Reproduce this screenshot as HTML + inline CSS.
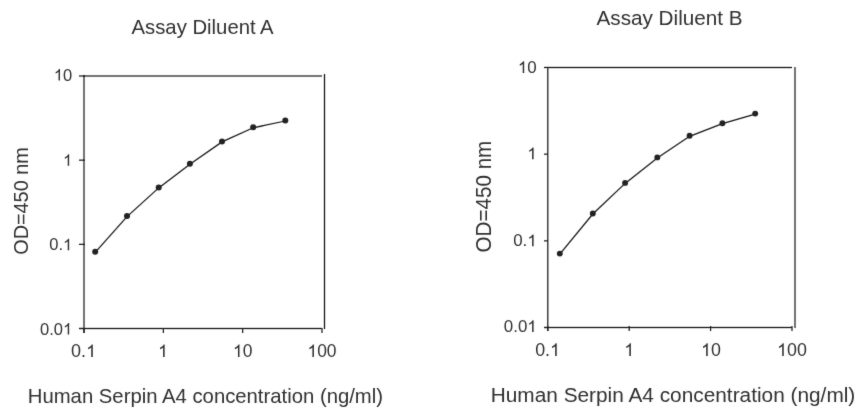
<!DOCTYPE html>
<html><head><meta charset="utf-8"><style>
html,body{margin:0;padding:0;background:#fff;}
svg{display:block;will-change:transform;}
text{font-family:"Liberation Sans",sans-serif;fill:#303030;}
.ax{stroke:#111;stroke-width:1.25;fill:none;}
.cv{stroke:#161616;stroke-width:1.25;fill:none;}
.mk{fill:#242424;}
.g1{fill:#303030;}
.lr{fill:#1c1c1c;shape-rendering:crispEdges;}
</style></head><body>
<svg width="867" height="417" viewBox="0 0 867 417">
<defs><filter id="soft" x="0" y="0" width="867" height="417" filterUnits="userSpaceOnUse"><feConvolveMatrix order="3" kernelMatrix="0.00864 0.07567 0.00864 0.07567 0.66279 0.07567 0.00864 0.07567 0.00864" edgeMode="none" preserveAlpha="false"/></filter></defs>
<rect width="867" height="417" fill="#fff"/>
<g filter="url(#soft)">
<rect x="83" y="75" width="1" height="258" fill-opacity="0.625" class="lr"/>
<rect x="84" y="75" width="1" height="258" fill-opacity="0.625" class="lr"/>
<rect x="79" y="75" width="6" height="1" fill-opacity="0.625" class="lr"/>
<rect x="79" y="76" width="6" height="1" fill-opacity="0.625" class="lr"/>
<rect x="79" y="159" width="6" height="1" fill-opacity="0.458" class="lr"/>
<rect x="79" y="160" width="6" height="1" fill-opacity="0.792" class="lr"/>
<rect x="79" y="243" width="6" height="1" fill-opacity="0.292" class="lr"/>
<rect x="79" y="244" width="6" height="1" fill-opacity="0.958" class="lr"/>
<rect x="79" y="327" width="6" height="1" fill-opacity="0.125" class="lr"/>
<rect x="79" y="328" width="6" height="1" fill-opacity="1.000" class="lr"/>
<rect x="79" y="329" width="6" height="1" fill-opacity="0.125" class="lr"/>
<rect x="79" y="327" width="243" height="1" fill-opacity="0.125" class="lr"/>
<rect x="79" y="328" width="243" height="1" fill-opacity="1.000" class="lr"/>
<rect x="79" y="329" width="243" height="1" fill-opacity="0.125" class="lr"/>
<rect x="83" y="328" width="1" height="5" fill-opacity="0.625" class="lr"/>
<rect x="84" y="328" width="1" height="5" fill-opacity="0.625" class="lr"/>
<rect x="162" y="328" width="1" height="5" fill-opacity="0.292" class="lr"/>
<rect x="163" y="328" width="1" height="5" fill-opacity="0.958" class="lr"/>
<rect x="242" y="328" width="1" height="5" fill-opacity="0.958" class="lr"/>
<rect x="243" y="328" width="1" height="5" fill-opacity="0.292" class="lr"/>
<rect x="321" y="328" width="1" height="5" fill-opacity="0.625" class="lr"/>
<rect x="322" y="328" width="1" height="5" fill-opacity="0.625" class="lr"/>
<rect x="83" y="75" width="239" height="1" fill-opacity="0.625" class="lr"/>
<rect x="83" y="76" width="239" height="1" fill-opacity="0.625" class="lr"/>
<rect x="323" y="74" width="1" height="255" fill-opacity="0.125" class="lr"/>
<rect x="324" y="74" width="1" height="255" fill-opacity="1.000" class="lr"/>
<rect x="325" y="74" width="1" height="255" fill-opacity="0.125" class="lr"/>
<path d="M95.20,252.30 C95.20,252.30 127.00,216.60 127.00,216.60 C127.00,216.60 158.70,187.90 158.70,187.90 C158.70,187.90 189.90,164.20 189.90,164.20 C189.90,164.20 222.00,141.90 222.00,141.90 C222.00,141.90 253.20,127.80 253.20,127.80 C253.20,127.80 285.30,121.00 285.30,121.00" class="cv"/>
<circle cx="95.20" cy="251.80" r="3.0" class="mk"/>
<circle cx="127.00" cy="216.10" r="3.0" class="mk"/>
<circle cx="158.70" cy="187.40" r="3.0" class="mk"/>
<circle cx="189.90" cy="163.70" r="3.0" class="mk"/>
<circle cx="222.00" cy="141.40" r="3.0" class="mk"/>
<circle cx="253.20" cy="127.30" r="3.0" class="mk"/>
<circle cx="285.30" cy="120.50" r="3.0" class="mk"/>
<rect x="547" y="67" width="1" height="264" fill-opacity="0.825" class="lr"/>
<rect x="548" y="67" width="1" height="264" fill-opacity="0.425" class="lr"/>
<rect x="544" y="66" width="4" height="1" fill-opacity="0.125" class="lr"/>
<rect x="544" y="67" width="4" height="1" fill-opacity="1.000" class="lr"/>
<rect x="544" y="68" width="4" height="1" fill-opacity="0.125" class="lr"/>
<rect x="544" y="153" width="4" height="1" fill-opacity="0.458" class="lr"/>
<rect x="544" y="154" width="4" height="1" fill-opacity="0.792" class="lr"/>
<rect x="544" y="240" width="4" height="1" fill-opacity="0.792" class="lr"/>
<rect x="544" y="241" width="4" height="1" fill-opacity="0.458" class="lr"/>
<rect x="544" y="326" width="4" height="1" fill-opacity="0.125" class="lr"/>
<rect x="544" y="327" width="4" height="1" fill-opacity="1.000" class="lr"/>
<rect x="544" y="328" width="4" height="1" fill-opacity="0.125" class="lr"/>
<rect x="544" y="326" width="248" height="1" fill-opacity="0.125" class="lr"/>
<rect x="544" y="327" width="248" height="1" fill-opacity="1.000" class="lr"/>
<rect x="544" y="328" width="248" height="1" fill-opacity="0.125" class="lr"/>
<rect x="547" y="326" width="1" height="5" fill-opacity="0.825" class="lr"/>
<rect x="548" y="326" width="1" height="5" fill-opacity="0.425" class="lr"/>
<rect x="628" y="326" width="1" height="5" fill-opacity="0.425" class="lr"/>
<rect x="629" y="326" width="1" height="5" fill-opacity="0.825" class="lr"/>
<rect x="709" y="326" width="1" height="5" fill-opacity="0.025" class="lr"/>
<rect x="710" y="326" width="1" height="5" fill-opacity="1.000" class="lr"/>
<rect x="711" y="326" width="1" height="5" fill-opacity="0.225" class="lr"/>
<rect x="791" y="326" width="1" height="5" fill-opacity="0.625" class="lr"/>
<rect x="792" y="326" width="1" height="5" fill-opacity="0.625" class="lr"/>
<rect x="547" y="66" width="245" height="1" fill-opacity="0.125" class="lr"/>
<rect x="547" y="67" width="245" height="1" fill-opacity="1.000" class="lr"/>
<rect x="547" y="68" width="245" height="1" fill-opacity="0.125" class="lr"/>
<rect x="794" y="67" width="1" height="261" fill-opacity="0.625" class="lr"/>
<rect x="795" y="67" width="1" height="261" fill-opacity="0.625" class="lr"/>
<path d="M559.80,254.10 C559.80,254.10 592.80,214.00 592.80,214.00 C592.80,214.00 625.10,183.40 625.10,183.40 C625.10,183.40 657.30,157.90 657.30,157.90 C657.30,157.90 689.60,136.30 689.60,136.30 C689.60,136.30 722.40,123.70 722.40,123.70 C722.40,123.70 755.20,114.10 755.20,114.10" class="cv"/>
<circle cx="559.80" cy="253.60" r="2.95" class="mk"/>
<circle cx="592.80" cy="213.50" r="2.95" class="mk"/>
<circle cx="625.10" cy="182.90" r="2.95" class="mk"/>
<circle cx="657.30" cy="157.40" r="2.95" class="mk"/>
<circle cx="689.60" cy="135.80" r="2.95" class="mk"/>
<circle cx="722.40" cy="123.20" r="2.95" class="mk"/>
<circle cx="755.20" cy="113.60" r="2.95" class="mk"/>
<text transform="translate(202.60,34.00) scale(1.0150,1)" font-size="20" text-anchor="middle">Assay Diluent A</text>
<text transform="translate(205.40,403.20) scale(1.0150,1)" font-size="20" text-anchor="middle">Human Serpin A4 concentration (ng/ml)</text>
<path transform="translate(53.85,80.60) scale(0.00806,-0.00806)" d="M763 0L583 0L583 1100Q518 1040 413 980Q308 920 223 890L223 1060Q373 1130 486 1228Q599 1325 646 1430L763 1430Z" class="g1"/>
<text transform="translate(63.02,80.60) scale(1.0000,1)" font-size="16.5">0</text>
<path transform="translate(63.02,165.80) scale(0.00806,-0.00806)" d="M763 0L583 0L583 1100Q518 1040 413 980Q308 920 223 890L223 1060Q373 1130 486 1228Q599 1325 646 1430L763 1430Z" class="g1"/>
<text transform="translate(49.26,250.20) scale(1.0000,1)" font-size="16.5">0</text>
<text transform="translate(58.44,250.20) scale(1.0000,1)" font-size="16.5">.</text>
<path transform="translate(63.02,250.20) scale(0.00806,-0.00806)" d="M763 0L583 0L583 1100Q518 1040 413 980Q308 920 223 890L223 1060Q373 1130 486 1228Q599 1325 646 1430L763 1430Z" class="g1"/>
<text transform="translate(40.09,334.60) scale(1.0000,1)" font-size="16.5">0</text>
<text transform="translate(49.26,334.60) scale(1.0000,1)" font-size="16.5">.</text>
<text transform="translate(53.85,334.60) scale(1.0000,1)" font-size="16.5">0</text>
<path transform="translate(63.02,334.60) scale(0.00806,-0.00806)" d="M763 0L583 0L583 1100Q518 1040 413 980Q308 920 223 890L223 1060Q373 1130 486 1228Q599 1325 646 1430L763 1430Z" class="g1"/>
<text transform="translate(71.09,357.10) scale(1.0000,1)" font-size="18">0</text>
<text transform="translate(81.10,357.10) scale(1.0000,1)" font-size="18">.</text>
<path transform="translate(86.10,357.10) scale(0.00879,-0.00879)" d="M763 0L583 0L583 1100Q518 1040 413 980Q308 920 223 890L223 1060Q373 1130 486 1228Q599 1325 646 1430L763 1430Z" class="g1"/>
<path transform="translate(158.14,357.10) scale(0.00853,-0.00879)" d="M763 0L583 0L583 1100Q518 1040 413 980Q308 920 223 890L223 1060Q373 1130 486 1228Q599 1325 646 1430L763 1430Z" class="g1"/>
<path transform="translate(232.99,357.10) scale(0.00853,-0.00879)" d="M763 0L583 0L583 1100Q518 1040 413 980Q308 920 223 890L223 1060Q373 1130 486 1228Q599 1325 646 1430L763 1430Z" class="g1"/>
<text transform="translate(242.70,357.10) scale(0.9700,1)" font-size="18">0</text>
<path transform="translate(307.43,357.10) scale(0.00853,-0.00879)" d="M763 0L583 0L583 1100Q518 1040 413 980Q308 920 223 890L223 1060Q373 1130 486 1228Q599 1325 646 1430L763 1430Z" class="g1"/>
<text transform="translate(317.14,357.10) scale(0.9700,1)" font-size="18">0</text>
<text transform="translate(326.86,357.10) scale(0.9700,1)" font-size="18">0</text>
<text transform="translate(669.55,25.40) scale(1.0200,1)" font-size="20.3" text-anchor="middle">Assay Diluent B</text>
<text transform="translate(673.00,402.00) scale(0.9920,1)" font-size="21" text-anchor="middle">Human Serpin A4 concentration (ng/ml)</text>
<path transform="translate(517.90,73.00) scale(0.00825,-0.00825)" d="M763 0L583 0L583 1100Q518 1040 413 980Q308 920 223 890L223 1060Q373 1130 486 1228Q599 1325 646 1430L763 1430Z" class="g1"/>
<text transform="translate(527.30,73.00) scale(1.0000,1)" font-size="16.9">0</text>
<path transform="translate(527.30,159.20) scale(0.00825,-0.00825)" d="M763 0L583 0L583 1100Q518 1040 413 980Q308 920 223 890L223 1060Q373 1130 486 1228Q599 1325 646 1430L763 1430Z" class="g1"/>
<text transform="translate(513.21,246.20) scale(1.0000,1)" font-size="16.9">0</text>
<text transform="translate(522.61,246.20) scale(1.0000,1)" font-size="16.9">.</text>
<path transform="translate(527.30,246.20) scale(0.00825,-0.00825)" d="M763 0L583 0L583 1100Q518 1040 413 980Q308 920 223 890L223 1060Q373 1130 486 1228Q599 1325 646 1430L763 1430Z" class="g1"/>
<text transform="translate(503.81,332.10) scale(1.0000,1)" font-size="16.9">0</text>
<text transform="translate(513.21,332.10) scale(1.0000,1)" font-size="16.9">.</text>
<text transform="translate(517.90,332.10) scale(1.0000,1)" font-size="16.9">0</text>
<path transform="translate(527.30,332.10) scale(0.00825,-0.00825)" d="M763 0L583 0L583 1100Q518 1040 413 980Q308 920 223 890L223 1060Q373 1130 486 1228Q599 1325 646 1430L763 1430Z" class="g1"/>
<text transform="translate(535.19,356.05) scale(0.9700,1)" font-size="18.4">0</text>
<text transform="translate(545.12,356.05) scale(0.9700,1)" font-size="18.4">.</text>
<path transform="translate(550.08,356.05) scale(0.00871,-0.00898)" d="M763 0L583 0L583 1100Q518 1040 413 980Q308 920 223 890L223 1060Q373 1130 486 1228Q599 1325 646 1430L763 1430Z" class="g1"/>
<path transform="translate(624.24,356.05) scale(0.00871,-0.00898)" d="M763 0L583 0L583 1100Q518 1040 413 980Q308 920 223 890L223 1060Q373 1130 486 1228Q599 1325 646 1430L763 1430Z" class="g1"/>
<path transform="translate(701.07,356.05) scale(0.00871,-0.00898)" d="M763 0L583 0L583 1100Q518 1040 413 980Q308 920 223 890L223 1060Q373 1130 486 1228Q599 1325 646 1430L763 1430Z" class="g1"/>
<text transform="translate(711.00,356.05) scale(0.9700,1)" font-size="18.4">0</text>
<path transform="translate(777.11,356.05) scale(0.00871,-0.00898)" d="M763 0L583 0L583 1100Q518 1040 413 980Q308 920 223 890L223 1060Q373 1130 486 1228Q599 1325 646 1430L763 1430Z" class="g1"/>
<text transform="translate(787.04,356.05) scale(0.9700,1)" font-size="18.4">0</text>
<text transform="translate(796.96,356.05) scale(0.9700,1)" font-size="18.4">0</text>
<text transform="translate(28.00,201.00) rotate(-90) scale(0.9460,1)" font-size="21" text-anchor="middle">OD=450 nm</text>
<text transform="translate(490.60,196.60) rotate(-90) scale(0.9510,1)" font-size="21.7" text-anchor="middle">OD=450 nm</text>
</g>
</svg>
</body></html>
